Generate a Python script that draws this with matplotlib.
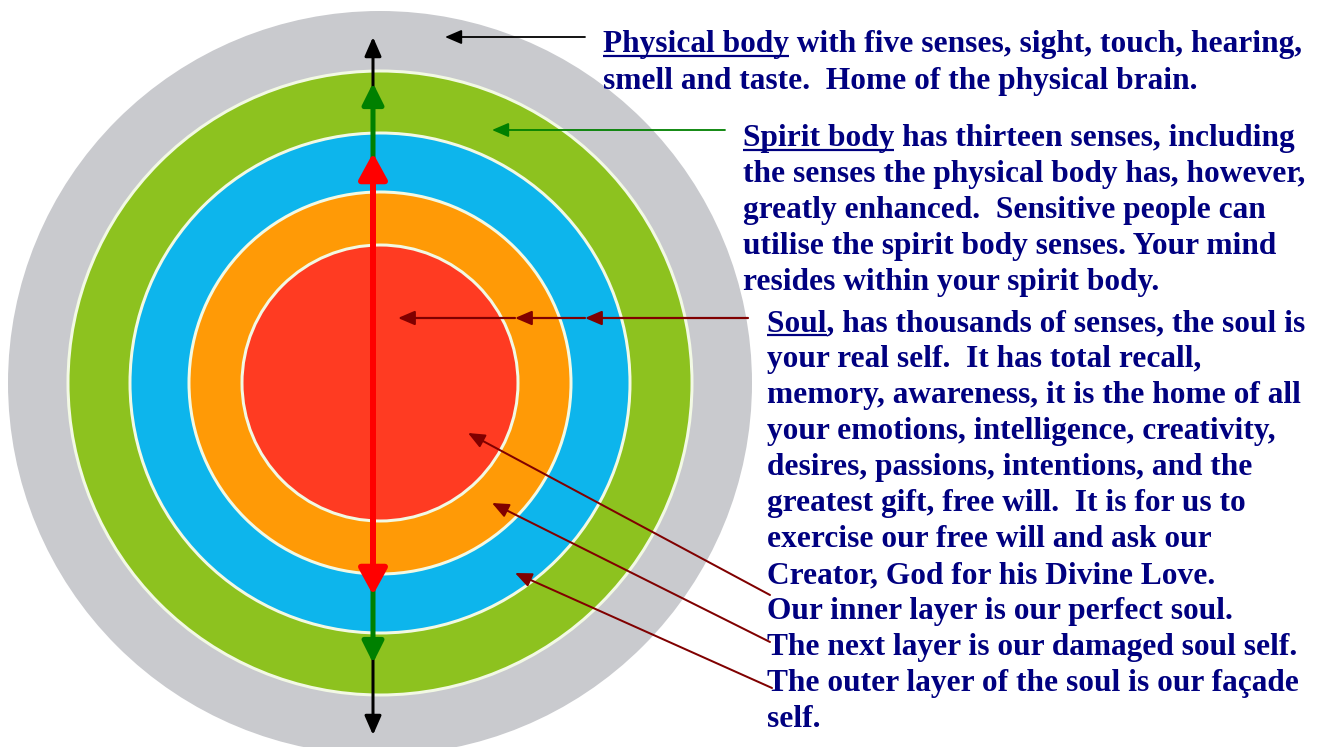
import matplotlib
matplotlib.use("Agg")
import matplotlib.pyplot as plt
from matplotlib.patches import Circle, FancyArrowPatch

W, H = 1319, 747

# layers of the body, outer to inner
layer_names = ["physical", "spirit", "facade soul", "damaged soul", "perfect soul"]
layer_colors = ["#C9CACE", "#8DC21F", "#0DB5EC", "#FF9A06", "#FF3B22"]
layer_radius = [372, 312, 250, 191, 138]

navy = "#000080"
maroon = "#800000"

# text blocks: underlined lead and the lines
physical_lead = "Physical body"
physical_lines = ["Physical body with five senses, sight, touch, hearing,",
                  "smell and taste.  Home of the physical brain."]
spirit_lead = "Spirit body"
spirit_lines = ["Spirit body has thirteen senses, including",
                "the senses the physical body has, however,",
                "greatly enhanced.  Sensitive people can",
                "utilise the spirit body senses. Your mind",
                "resides within your spirit body."]
soul_lead = "Soul"
soul_lines = ["Soul, has thousands of senses, the soul is",
              "your real self.  It has total recall,",
              "memory, awareness, it is the home of all",
              "your emotions, intelligence, creativity,",
              "desires, passions, intentions, and the",
              "greatest gift, free will.  It is for us to",
              "exercise our free will and ask our",
              "Creator, God for his Divine Love.",
              "Our inner layer is our perfect soul.",
              "The next layer is our damaged soul self.",
              "The outer layer of the soul is our façade",
              "self."]

cx, cy = 380, 383
px = 0.72  # points per pixel at dpi 100

fig = plt.figure(figsize=(W / 100, H / 100), dpi=100)
ax = fig.add_axes([0, 0, 1, 1])
ax.set_xlim(0, W)
ax.set_ylim(H, 0)
ax.set_aspect("equal")
ax.axis("off")

# concentric layers
for i, (r, c) in enumerate(zip(layer_radius, layer_colors)):
    edge = "none" if i == 0 else "#F2F9E4"
    ax.add_patch(Circle((cx, cy), r, facecolor=c, edgecolor=edge,
                        linewidth=3 * px, zorder=1 + i))


def arrow(p0, p1, color, lw, hl, hw, style="-|>", z=10):
    a = FancyArrowPatch(p0, p1, arrowstyle=f"{style},head_length={hl*px},head_width={hw*px/2}",
                        color=color, linewidth=lw * px, shrinkA=0, shrinkB=0,
                        mutation_scale=1, zorder=z)
    ax.add_patch(a)


# vertical double arrows
vx = 373
arrow((vx, 735), (vx, 37), "black", 3, 16, 14, "<|-|>", 10)
arrow((vx, 663), (vx, 83), "#008000", 5, 18, 18, "<|-|>", 11)
arrow((vx, 595), (vx, 153), "#FF0000", 6, 22, 24, "<|-|>", 12)

# pointers to the layers
arrow((585, 37), (445, 37), "black", 1.8, 14, 12)
arrow((725, 130), (492, 130), "#008000", 1.8, 14, 12)
arrow((748, 318), (585, 318), maroon, 2.2, 14, 12)
arrow((585, 318), (515, 318), maroon, 2.2, 14, 12)
arrow((515, 318), (398, 318), maroon, 2.2, 14, 12)
arrow((770, 595), (468, 433), maroon, 2, 14, 12)
arrow((770, 642), (492, 503), maroon, 2, 14, 12)
arrow((772, 688), (515, 573), maroon, 2, 14, 12)

font = dict(family="Liberation Serif", weight="bold", color=navy, fontsize=22.6)
renderer = fig.canvas.get_renderer()


def block(x, y0, lines, lead, pitch=36):
    for k, s in enumerate(lines):
        ax.text(x, y0 + k * pitch, s, ha="left", va="baseline", zorder=20, **font)
    t = ax.text(x, y0, lead, ha="left", va="baseline", alpha=0, **font)
    w = t.get_window_extent(renderer).width
    ax.plot([x, x + w], [y0 + 4, y0 + 4], color=navy, lw=2.2 * px, zorder=20,
            solid_capstyle="butt")


block(603, 52, physical_lines, physical_lead, 37)
block(743, 146, spirit_lines, spirit_lead)
block(767, 331, soul_lines, soul_lead)

fig.savefig("out.png", dpi=100)
